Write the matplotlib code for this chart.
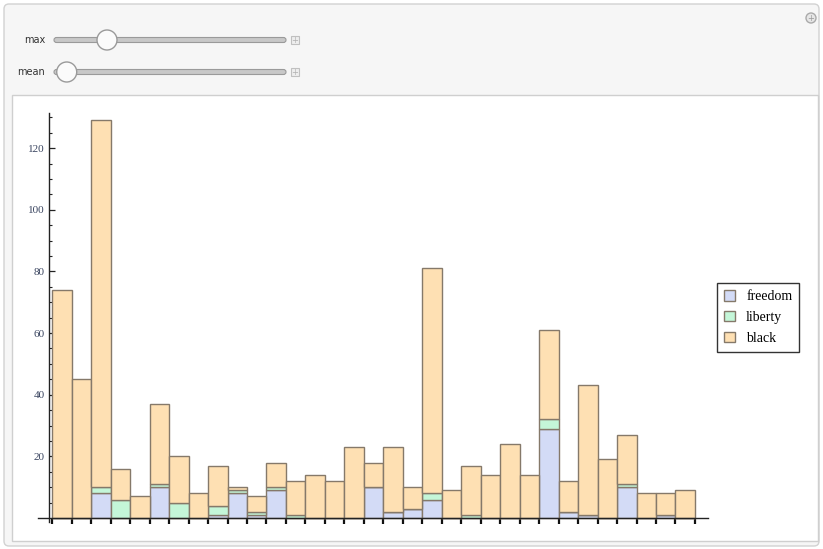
import matplotlib
matplotlib.use("Agg")
import matplotlib.pyplot as plt
import numpy as np
from matplotlib.patches import FancyBboxPatch, Rectangle, Circle, Patch

# ---- data ----
series_names = ["freedom", "liberty", "black"]
freedom = [0, 0, 8, 0, 0, 10, 0, 0, 1, 8, 1, 9, 0, 0, 0, 0, 10, 2, 3, 6, 0, 0, 0, 0, 0, 29, 2, 1, 0, 10, 0, 1, 0]
liberty = [0, 0, 2, 6, 0, 1, 5, 0, 3, 1, 1, 1, 1, 0, 0, 0, 0, 0, 0, 2, 0, 1, 0, 0, 0, 3, 0, 0, 0, 1, 0, 0, 0]
black = [74, 45, 119, 10, 7, 26, 15, 8, 13, 1, 5, 8, 11, 14, 12, 23, 8, 21, 7, 73, 9, 16, 14, 24, 14, 29, 10, 42, 19, 16, 8, 7, 9]
y_ticks = [20, 40, 60, 80, 100, 120]
slider_labels = ["max", "mean"]
slider_values = [0.25, 0.06]

colors = ["#d3dbf6", "#c4f6d8", "#fee0b3"]
edge = "#85796a"

W, H = 823, 549
fig = plt.figure(figsize=(W / 100, H / 100), dpi=100)

# ---- background (Manipulate panel) ----
bg = fig.add_axes([0, 0, 1, 1])
bg.set_xlim(0, W)
bg.set_ylim(H, 0)
bg.axis("off")
bg.add_patch(FancyBboxPatch((4, 4), W - 8, H - 7, boxstyle="round,pad=0,rounding_size=5",
                            facecolor="#f6f6f6", edgecolor="#d2d2d2", lw=1))
bg.add_patch(Rectangle((12, 95), 806, 446, facecolor="white", edgecolor="#cfcfcf", lw=1))
# top-right icon
bg.add_patch(Circle((811, 18), 5, facecolor="#e6e6e6", edgecolor="#aaaaaa", lw=1))
bg.text(811, 18.5, "+", ha="center", va="center", fontsize=6, color="#999999")
# sliders
for i, (lab, val) in enumerate(zip(slider_labels, slider_values)):
    yc = 40 + 32 * i
    bg.text(45, yc, lab, ha="right", va="center", fontsize=7, color="#333333",
            family="DejaVu Sans")
    bg.add_patch(FancyBboxPatch((54, yc - 2.5), 232, 5, boxstyle="round,pad=0,rounding_size=2.5",
                                facecolor="#c8c8c8", edgecolor="#9a9a9a", lw=0.8))
    kx = 54 + val * 212
    bg.add_patch(Circle((kx, yc), 10, facecolor="#fbfbfb", edgecolor="#9a9a9a", lw=1, zorder=3))
    bg.add_patch(Rectangle((291, yc - 4), 8, 8, facecolor="#eeeeee", edgecolor="#c0c0c0", lw=0.8))
    bg.text(295, yc + 0.5, "+", ha="center", va="center", fontsize=6, color="#b0b0b0")

# ---- chart ----
ax = fig.add_axes([38 / W, 1 - 524.2 / H, 670 / W, (524.2 - 113) / H])
ax.patch.set_alpha(0)
x = np.arange(1, len(black) + 1)
bottom = np.zeros(len(black))
for name, vals, col in zip(series_names, [freedom, liberty, black], colors):
    v = np.array(vals, dtype=float)
    ax.bar(x, v, width=1.0, bottom=bottom, color=col, edgecolor=edge, linewidth=1.0,
           label=name, zorder=2)
    bottom += v

ax.set_xlim(-0.23, 34.17)
ax.set_ylim(-2, 131.4)
for s in ["top", "right"]:
    ax.spines[s].set_visible(False)
ax.spines["left"].set_position(("data", 0.33))
ax.spines["left"].set_bounds(-1.3, 131.4)
ax.spines["bottom"].set_position(("data", 0))
ax.spines["left"].set_color("#222222")
ax.spines["bottom"].set_color("#222222")
ax.spines["left"].set_linewidth(1.0)
ax.spines["bottom"].set_linewidth(1.0)

ax.set_yticks(y_ticks)
ax.set_yticks(np.arange(5, 131, 5), minor=True)
ax.tick_params(axis="y", which="major", direction="in", length=4, width=0.9, pad=3,
               labelsize=8, labelcolor="#3a4560", color="#222222")
ax.tick_params(axis="y", which="minor", direction="in", length=2.5, width=0.8, color="#222222")
for t in ax.get_yticklabels():
    t.set_family("Liberation Serif")

edges = np.arange(0.5, len(black) + 1, 1.0)
ax.set_xticks(edges)
ax.set_xticklabels([])
ax.tick_params(axis="x", which="major", direction="out", length=4, width=1.6, color="#111111")

handles = [Patch(facecolor=c, edgecolor=edge, lw=1) for c in colors]
leg = fig.legend(handles, series_names, loc="upper left", bbox_to_anchor=(717 / W, 1 - 283 / H),
                 borderaxespad=0, frameon=True, fancybox=False, edgecolor="black",
                 prop={"family": "Liberation Serif", "size": 10}, handlelength=0.8,
                 handleheight=0.8, handletextpad=0.8, labelspacing=0.55, borderpad=0.5)
leg.get_frame().set_linewidth(1.0)

fig.savefig("out.png", dpi=100)
